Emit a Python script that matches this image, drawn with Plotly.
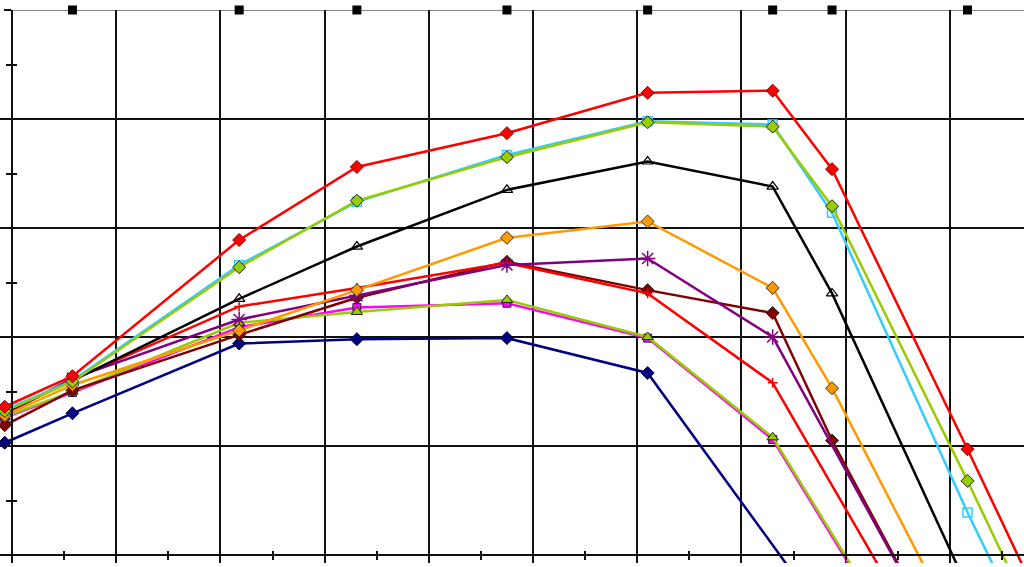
import plotly.graph_objects as go

# x positions of the data points (axis units; one major gridline = 1 unit)
x_pts = [-0.07, 0.58, 2.18, 3.31, 4.75, 6.10, 7.30, 7.87, 9.17, 10.44]

# series values (axis units; one major gridline = 1 unit)
red_diamond   = [1.36, 1.64, 2.89, 3.56, 3.87, 4.24, 4.26, 3.54, 0.97, -1.59]
cyan_square   = [1.33, 1.60, 2.66, 3.24, 3.67, 3.98, 3.95, 3.14, 0.39, -2.11]
yg_diamond    = [1.32, 1.59, 2.64, 3.25, 3.65, 3.97, 3.93, 3.20, 0.68, -1.88]
black_tri     = [1.31, 1.60, 2.35, 2.83, 3.35, 3.61, 3.38, 2.40, -0.30, None]
orange_dia    = [1.28, 1.56, 2.06, 2.43, 2.91, 3.06, 2.45, 1.53, -0.87, None]
purple_star   = [1.29, 1.62, 2.16, 2.38, 2.66, 2.72, 2.00, None, -1.26, None]
maroon_dia    = [1.19, 1.51, 2.02, 2.36, 2.69, 2.43, 2.22, 1.05, -1.27, None]
red_cross     = [1.30, 1.61, 2.28, 2.45, 2.68, 2.40, 1.58, None, -1.51, None]
green_tri     = [1.27, 1.50, 2.13, 2.23, 2.34, 2.00, 1.08, None, -1.83, None]
magenta_sq    = [1.26, 1.49, 2.09, 2.27, 2.31, 1.99, 1.06, None, -1.86, None]
navy_dia      = [1.03, 1.30, 1.94, 1.98, 1.99, 1.67, None, -0.66, None, None]

top_x = [0.58, 2.18, 3.31, 4.75, 6.10, 7.30, 7.87, 9.17]
top_y = [5, 5, 5, 5, 5, 5, 5, 5]

series = [
    ("navy", navy_dia, "#000080", dict(symbol="diamond", size=10, color="#000080", line=dict(color="#000040", width=1))),
    ("magenta", magenta_sq, "#FF00FF", dict(symbol="square", size=8, color="#FF00FF", line=dict(color="#222", width=1))),
    ("green tri", green_tri, "#99CC00", dict(symbol="triangle-up", size=10, color="#99CC00", line=dict(color="#222", width=1))),
    ("maroon", maroon_dia, "#800000", dict(symbol="diamond", size=10, color="#800000", line=dict(color="#222", width=1))),
    ("red cross", red_cross, "#FF0000", dict(symbol="cross-thin-open", size=7, color="#FF0000", line=dict(color="#FF0000", width=1.5))),
    ("purple", purple_star, "#800080", dict(symbol="asterisk-open", size=13, color="#800080", line=dict(color="#800080", width=1.5))),
    ("orange", orange_dia, "#FF9900", dict(symbol="diamond", size=10, color="#FF9900", line=dict(color="#333", width=1))),
    ("black", black_tri, "#000000", dict(symbol="triangle-up-open", size=10, color="#000000", line=dict(color="#000", width=1.2))),
    ("cyan", cyan_square, "#33CCFF", dict(symbol="square-open", size=9, color="#33CCFF", line=dict(color="#33CCFF", width=1.5))),
    ("yg", yg_diamond, "#99CC00", dict(symbol="diamond", size=10, color="#99CC00", line=dict(color="#222", width=1))),
    ("red", red_diamond, "#FF0000", dict(symbol="diamond", size=10, color="#FF0000", line=dict(color="#700", width=1))),
]

fig = go.Figure()
for name, ys, col, mk in series:
    fig.add_trace(go.Scatter(x=x_pts, y=ys, mode="lines+markers", name=name,
                             line=dict(color=col, width=2.5), marker=mk,
                             connectgaps=True, showlegend=False))

fig.add_trace(go.Scatter(x=top_x, y=top_y, mode="markers", cliponaxis=False,
                         marker=dict(symbol="square", size=9, color="black"),
                         showlegend=False))

W, H = 1024, 567
x_range = [-12 / 104.2, 1012 / 104.2]
y_range = [-8 / 109, 5]
xpos = 8 / 553

common = dict(showgrid=True, gridcolor="#111", gridwidth=2, zeroline=False,
              showline=True, linecolor="#111", linewidth=2,
              showticklabels=False, ticks="outside", tickcolor="#111",
              tickwidth=2, dtick=1, tick0=0)

fig.update_layout(
    width=W, height=H,
    margin=dict(l=0, r=0, t=10, b=4),
    paper_bgcolor="white", plot_bgcolor="white",
    xaxis=dict(range=x_range, anchor="free", position=xpos, ticklen=4,
               minor=dict(dtick=0.5, ticks="outside", ticklen=4, tickwidth=2, tickcolor="#111", showgrid=False),
               **common),
    yaxis=dict(range=y_range, anchor="free", position=12 / 1024, ticklen=7,
               minor=dict(dtick=0.5, ticks="outside", ticklen=5, tickwidth=2, tickcolor="#111", showgrid=False),
               **common),
    xaxis2=dict(range=x_range, overlaying="x", anchor="free", position=xpos,
                showgrid=False, zeroline=False, showline=False, showticklabels=False,
                ticks="", dtick=1, tick0=0,
                minor=dict(dtick=0.5, ticks="inside", ticklen=4, tickwidth=2, tickcolor="#111")),
    yaxis2=dict(range=y_range, overlaying="y", anchor="free", position=12 / 1024,
                showgrid=False, zeroline=False, showline=False, showticklabels=False,
                ticks="", dtick=1, tick0=0,
                minor=dict(dtick=0.5, ticks="inside", ticklen=4, tickwidth=2, tickcolor="#111")),
)

# invisible helper trace so that the overlay axes are drawn
fig.add_trace(go.Scatter(x=[None], y=[None], xaxis="x2", yaxis="y2", showlegend=False, hoverinfo="skip"))

fig.add_shape(type="line", xref="x", yref="y", x0=-0.07, x1=x_range[1], y0=5, y1=5,
              line=dict(color="#888", width=2), layer="below")

fig.write_html("out.html")
